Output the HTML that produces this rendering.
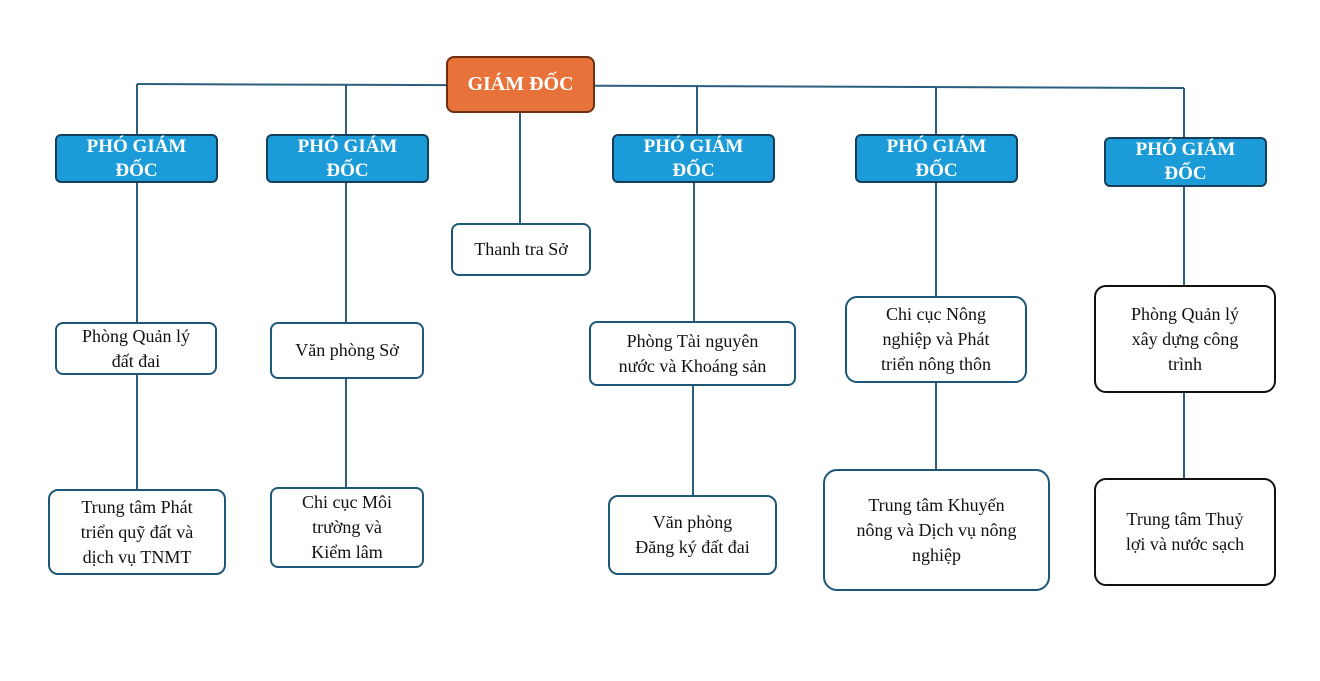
<!DOCTYPE html>
<html><head><meta charset="utf-8"><style>
body{margin:0;width:1320px;height:681px;background:#fff;position:relative;overflow:hidden;font-family:"Liberation Serif",serif}
.b{position:absolute;box-sizing:border-box;display:flex;align-items:center;justify-content:center;text-align:center;border-radius:8px;font-size:18px;line-height:25px;color:#111}
.w{border:2px solid #1d5878;background:#fff}
.k{border:2px solid #111;background:#fff;border-radius:12px}
.p{background:#1b9bd7;border:2px solid #163f5c;color:#fff;font-weight:bold;font-size:19px;line-height:24px;border-radius:6px}
.g{background:#e8733a;border:2px solid #6e2f12;color:#fff;font-weight:bold;font-size:20px}
svg{position:absolute;left:0;top:0}
</style></head><body>
<svg width="1320" height="681"><g stroke="#2a5f80" stroke-width="2" fill="none">
<line x1="137" y1="84" x2="1184" y2="88"/>
<path d="M137 84V489M346 85V487M520 113V223M697 85V134M694 183V321M693 386V495M936 86V469M1184 88V478"/>
</g></svg>
<div class="b g" style="left:446px;top:56px;width:149px;height:57px">GIÁM ĐỐC</div>
<div class="b p" style="left:55px;top:134px;width:163px;height:49px">PHÓ GIÁM<br>ĐỐC</div>
<div class="b p" style="left:266px;top:134px;width:163px;height:49px">PHÓ GIÁM<br>ĐỐC</div>
<div class="b p" style="left:612px;top:134px;width:163px;height:49px">PHÓ GIÁM<br>ĐỐC</div>
<div class="b p" style="left:855px;top:134px;width:163px;height:49px">PHÓ GIÁM<br>ĐỐC</div>
<div class="b p" style="left:1104px;top:137px;width:163px;height:50px">PHÓ GIÁM<br>ĐỐC</div>
<div class="b w" style="left:451px;top:223px;width:140px;height:53px">Thanh tra Sở</div>
<div class="b w" style="left:55px;top:322px;width:162px;height:53px">Phòng Quản lý<br>đất đai</div>
<div class="b w" style="left:270px;top:322px;width:154px;height:57px">Văn phòng Sở</div>
<div class="b w" style="left:589px;top:321px;width:207px;height:65px">Phòng Tài nguyên<br>nước và Khoáng sản</div>
<div class="b w" style="left:845px;top:296px;width:182px;height:87px;border-radius:12px">Chi cục Nông<br>nghiệp và Phát<br>triển nông thôn</div>
<div class="b k" style="left:1094px;top:285px;width:182px;height:108px">Phòng Quản lý<br>xây dựng công<br>trình</div>
<div class="b w" style="left:48px;top:489px;width:178px;height:86px;border-radius:10px">Trung tâm Phát<br>triển quỹ đất và<br>dịch vụ TNMT</div>
<div class="b w" style="left:270px;top:487px;width:154px;height:81px">Chi cục Môi<br>trường và<br>Kiểm lâm</div>
<div class="b w" style="left:608px;top:495px;width:169px;height:80px;border-radius:10px">Văn phòng<br>Đăng ký đất đai</div>
<div class="b w" style="left:823px;top:469px;width:227px;height:122px;border-radius:14px">Trung tâm Khuyến<br>nông và Dịch vụ nông<br>nghiệp</div>
<div class="b k" style="left:1094px;top:478px;width:182px;height:108px">Trung tâm Thuỷ<br>lợi và nước sạch</div>
</body></html>
